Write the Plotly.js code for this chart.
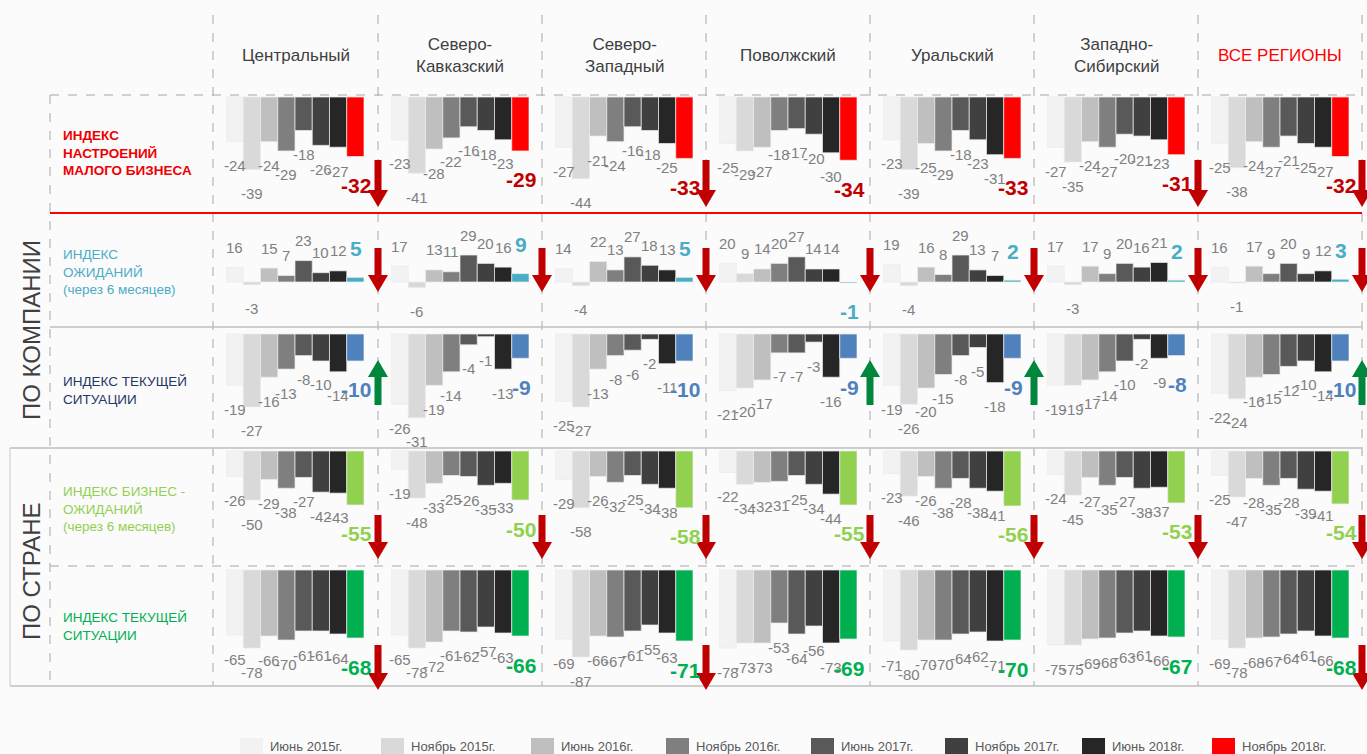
<!DOCTYPE html>
<html>
<head>
<meta charset="utf-8">
<script src="https://cdn.plot.ly/plotly-3.0.1.min.js"></script>
<style>
  html, body { margin: 0; padding: 0; background: #ffffff; }
  #chart { width: 1367px; height: 754px; }
</style>
</head>
<body>
<div id="chart"></div>
<script>
// ---- data ----------------------------------------------------------------
const PERIODS = ['Июнь 2015г.', 'Ноябрь 2015г.', 'Июнь 2016г.', 'Ноябрь 2016г.',
                 'Июнь 2017г.', 'Ноябрь 2017г.', 'Июнь 2018г.', 'Ноябрь 2018г.'];

const REGIONS = ['Центральный', 'Северо-<br>Кавказский', 'Северо-<br>Западный', 'Поволжский',
                 'Уральский', 'Западно-<br>Сибирский', 'ВСЕ РЕГИОНЫ'];

const INDEX_NAMES = ['ИНДЕКС<br>НАСТРОЕНИЙ<br>МАЛОГО БИЗНЕСА',
                     'ИНДЕКС<br>ОЖИДАНИЙ<br>(через 6 месяцев)',
                     'ИНДЕКС ТЕКУЩЕЙ<br>СИТУАЦИИ',
                     'ИНДЕКС БИЗНЕС -<br>ОЖИДАНИЙ<br>(через 6 месяцев)',
                     'ИНДЕКС ТЕКУЩЕЙ<br>СИТУАЦИИ'];

const GROUP_NAMES = ['ПО КОМПАНИИ', 'ПО СТРАНЕ'];

// Индекс настроений малого бизнеса, по регионам
const moodIndex = [
  [-24, -39, -24, -29, -18, -26, -27, -32],
  [-23, -41, -28, -22, -16, -18, -23, -29],
  [-27, -44, -21, -24, -16, -18, -25, -33],
  [-25, -29, -27, -18, -17, -20, -30, -34],
  [-23, -39, -25, -29, -18, -23, -31, -33],
  [-27, -35, -24, -27, -20, -21, -23, -31],
  [-25, -38, -24, -27, -21, -25, -27, -32]
];

// Индекс ожиданий компании (через 6 месяцев)
const companyExpect = [
  [16, -3, 15, 7, 23, 10, 12, 5],
  [17, -6, 13, 11, 29, 20, 16, 9],
  [14, -4, 22, 13, 27, 18, 13, 5],
  [20, 9, 14, 20, 27, 14, 14, -1],
  [19, -4, 16, 8, 29, 13, 7, 2],
  [17, -3, 17, 9, 20, 16, 21, 2],
  [16, -1, 17, 9, 20, 9, 12, 3]
];

// Индекс текущей ситуации компании
const companyCurrent = [
  [-19, -27, -16, -13, -8, -10, -14, -10],
  [-26, -31, -19, -14, -4, -1, -13, -9],
  [-25, -27, -13, -8, -6, -2, -11, -10],
  [-21, -20, -17, -7, -7, -3, -16, -9],
  [-19, -26, -20, -15, -8, -5, -18, -9],
  [-19, -19, -17, -14, -10, -2, -9, -8],
  [-22, -24, -16, -15, -12, -10, -14, -10]
];

// Индекс бизнес-ожиданий по стране (через 6 месяцев)
const countryExpect = [
  [-26, -50, -29, -38, -27, -42, -43, -55],
  [-19, -48, -33, -25, -26, -35, -33, -50],
  [-29, -58, -26, -32, -25, -34, -38, -58],
  [-22, -34, -32, -31, -25, -34, -44, -55],
  [-23, -46, -26, -38, -28, -38, -41, -56],
  [-24, -45, -27, -35, -27, -38, -37, -53],
  [-25, -47, -28, -35, -28, -39, -41, -54]
];

// Индекс текущей ситуации в стране
const countryCurrent = [
  [-65, -78, -66, -70, -61, -61, -64, -68],
  [-65, -78, -72, -61, -62, -57, -63, -66],
  [-69, -87, -66, -67, -61, -55, -63, -71],
  [-78, -73, -73, -53, -64, -56, -73, -69],
  [-71, -80, -70, -70, -64, -62, -71, -70],
  [-75, -75, -69, -68, -63, -61, -66, -67],
  [-69, -78, -68, -67, -64, -61, -66, -68]
];

// Направление изменения индекса (стрелки): 'down', 'up' или null
const moodTrend           = ['down', null, 'down', null, null, 'down', 'down'];
const companyExpectTrend  = ['down', 'down', 'down', 'down', 'down', 'down', 'down'];
const companyCurrentTrend = ['up', null, null, 'up', 'up', null, 'up'];
const countryExpectTrend  = ['down', 'down', 'down', 'down', 'down', 'down', 'down'];
const countryCurrentTrend = ['down', null, 'down', null, null, null, 'down'];

// ---- styling & geometry -------------------------------------------------
const W = 1367, H = 754;
const px = v => v / W;
const py = v => 1 - v / H;

const PERIOD_COLORS = ['#f2f2f2', '#d9d9d9', '#bfbfbf', '#7f7f7f', '#595959', '#404040', '#262626'];
const ROWS = [
  { values: moodIndex,      trend: moodTrend,           accent: '#ff0000', labelColor: '#c00000', nameColor: '#ee0000', bold: true,
    top: 96, bottom: 212, zero: 97, k: 1.86, arrow: [160, 207], nameY: 153 },
  { values: companyExpect,  trend: companyExpectTrend,  accent: '#4bacc6', labelColor: '#4bacc6', nameColor: '#4bacc6', bold: false,
    top: 214, bottom: 326, zero: 282, k: 0.93, arrow: [248, 292], nameY: 272 },
  { values: companyCurrent, trend: companyCurrentTrend, accent: '#4f81bd', labelColor: '#4f81bd', nameColor: '#1f3864', bold: false,
    top: 329, bottom: 447, zero: 334, k: 2.7, arrow: [360, 405], nameY: 390 },
  { values: countryExpect,  trend: countryExpectTrend,  accent: '#92d050', labelColor: '#92d050', nameColor: '#92d050', bold: false,
    top: 449, bottom: 566, zero: 451, k: 0.98, arrow: [515, 559], nameY: 509 },
  { values: countryCurrent, trend: countryCurrentTrend, accent: '#00b050', labelColor: '#00b050', nameColor: '#00b050', bold: false,
    top: 568, bottom: 685, zero: 570, k: 1.0, arrow: [645, 690], nameY: 626 }
];

const DIVIDERS = [213, 378, 542, 706, 870, 1034, 1198, 1362];
const NUM_FONT = "'Liberation Sans Narrow', 'Liberation Sans', Arial, sans-serif";
const TEXT_FONT = "'Liberation Sans', Arial, sans-serif";

const layout = {
  width: W, height: H,
  margin: { l: 0, r: 0, t: 0, b: 0, pad: 0 },
  paper_bgcolor: '#fbfbfc',
  plot_bgcolor: 'rgba(0,0,0,0)',
  showlegend: false,
  bargap: 0,
  annotations: [],
  shapes: []
};

// x axes: one per region column
REGIONS.forEach((r, c) => {
  const key = c === 0 ? 'xaxis' : 'xaxis' + (c + 1);
  layout[key] = {
    domain: [px(DIVIDERS[c] + 13), px(DIVIDERS[c] + 151)],
    range: [-0.5, 7.5], type: 'category', categoryorder: 'array', categoryarray: PERIODS,
    visible: false, fixedrange: true, anchor: 'y'
  };
});

// y axes: one per index row
ROWS.forEach((row, r) => {
  const key = r === 0 ? 'yaxis' : 'yaxis' + (r + 1);
  layout[key] = {
    domain: [py(row.bottom), py(row.top)],
    range: [(row.zero - row.bottom) / row.k, (row.zero - row.top) / row.k],
    visible: false, fixedrange: true, zeroline: false, anchor: 'x'
  };
});

const traces = [];
ROWS.forEach((row, r) => {
  const yId = r === 0 ? 'y' : 'y' + (r + 1);
  row.values.forEach((vals, c) => {
    const xId = c === 0 ? 'x' : 'x' + (c + 1);
    traces.push({
      type: 'bar', x: PERIODS, y: vals, xaxis: xId, yaxis: yId,
      marker: { color: PERIOD_COLORS.concat([row.accent]), line: { color: 'rgba(235,235,235,0.9)', width: 0.8 } },
      hoverinfo: 'x+y', cliponaxis: false
    });
    vals.forEach((v, i) => {
      const last = i === vals.length - 1;
      const off = last ? 29 : (v < 0 ? 24 : 20);
      layout.annotations.push({
        xref: xId, yref: yId, x: PERIODS[i], y: v,
        text: String(v), showarrow: false,
        xanchor: 'center', yanchor: 'middle',
        xshift: last ? 1 : 0,
        yshift: v < 0 ? -off : off,
        font: last
          ? { family: TEXT_FONT, size: 21, color: row.labelColor, weight: 'bold' }
          : { family: NUM_FONT, size: 15, color: '#808080' }
      });
    });
  });

  // trend arrows on the right border of a region cell
  row.trend.forEach((dir, c) => {
    if (!dir) return;
    const cx = DIVIDERS[c + 1];
    const [t, b] = row.arrow;
    const hw = 3.5, hh = 10, hl = 17;
    let pts;
    if (dir === 'down') {
      pts = [[cx - hw, t], [cx + hw, t], [cx + hw, b - hl], [cx + hh, b - hl], [cx, b], [cx - hh, b - hl], [cx - hw, b - hl]];
    } else {
      pts = [[cx - hw, b], [cx + hw, b], [cx + hw, t + hl], [cx + hh, t + hl], [cx, t], [cx - hh, t + hl], [cx - hw, t + hl]];
    }
    const path = 'M' + pts.map(p => px(p[0]).toFixed(5) + ',' + py(p[1]).toFixed(5)).join(' L') + ' Z';
    layout.shapes.push({
      type: 'path', xref: 'paper', yref: 'paper', path: path,
      fillcolor: dir === 'down' ? '#c00000' : '#00863d', line: { width: 0 }, layer: 'above'
    });
  });

  // index name on the left
  layout.annotations.push({
    xref: 'paper', yref: 'paper', x: px(61), y: py(row.nameY),
    xanchor: 'left', yanchor: 'middle', align: 'left', showarrow: false,
    text: INDEX_NAMES[r],
    font: { family: TEXT_FONT, size: 13.5, color: row.nameColor, weight: row.bold ? 'bold' : 'normal' }
  });
});

// region headers
REGIONS.forEach((name, c) => {
  layout.annotations.push({
    xref: 'paper', yref: 'paper', x: px((DIVIDERS[c] + DIVIDERS[c + 1]) / 2), y: py(55),
    xanchor: 'center', yanchor: 'middle', showarrow: false, text: name,
    font: { family: TEXT_FONT, size: 17, color: c === REGIONS.length - 1 ? '#ff0000' : '#404040' }
  });
});

// group captions (vertical)
[[GROUP_NAMES[0], 330], [GROUP_NAMES[1], 571]].forEach(([txt, y]) => {
  layout.annotations.push({
    xref: 'paper', yref: 'paper', x: px(31), y: py(y),
    xanchor: 'center', yanchor: 'middle', showarrow: false, textangle: -90,
    text: txt, font: { family: TEXT_FONT, size: 24, color: '#404040' }
  });
});

// grid lines
const GRID = '#a6a6a6';
DIVIDERS.forEach(x => {
  layout.shapes.push({ type: 'line', xref: 'paper', yref: 'paper', x0: px(x), x1: px(x), y0: py(15), y1: py(686),
    line: { color: GRID, width: 1, dash: 'dash' }, layer: 'below' });
});
layout.shapes.push({ type: 'line', xref: 'paper', yref: 'paper', x0: px(50), x1: px(50), y0: py(95), y1: py(686),
  line: { color: GRID, width: 1, dash: 'dash' }, layer: 'below' });
layout.shapes.push({ type: 'line', xref: 'paper', yref: 'paper', x0: px(10), x1: px(10), y0: py(448), y1: py(686),
  line: { color: '#c8c8c8', width: 1 }, layer: 'below' });
[[95, 50, 'dash', GRID, 1], [213, 50, 'solid', '#ff0000', 2], [327, 50, 'solid', '#bfbfbf', 1.5],
 [448, 10, 'solid', '#bfbfbf', 1.5], [566, 50, 'dash', GRID, 1], [686, 10, 'solid', '#bfbfbf', 1.5]].forEach(([y, x0, dash, col, w]) => {
  layout.shapes.push({ type: 'line', xref: 'paper', yref: 'paper', x0: px(x0), x1: px(1362), y0: py(y), y1: py(y),
    line: { color: col, width: w, dash: dash }, layer: 'below' });
});

// legend
const LEGEND_X = [240, 381, 531, 666, 811, 945, 1082, 1212];
const legendColors = PERIOD_COLORS.concat(['#ff0000']);
PERIODS.forEach((p, i) => {
  const x = LEGEND_X[i];
  layout.shapes.push({ type: 'rect', xref: 'paper', yref: 'paper',
    x0: px(x), x1: px(x + 23), y0: py(754), y1: py(738),
    fillcolor: legendColors[i], line: { width: 0 } });
  layout.annotations.push({ xref: 'paper', yref: 'paper', x: px(x + 28), y: py(746),
    xanchor: 'left', yanchor: 'middle', showarrow: false, text: p,
    font: { family: TEXT_FONT, size: 13, color: '#595959' } });
});

Plotly.newPlot('chart', traces, layout, { displayModeBar: false, staticPlot: true });
</script>
</body>
</html>
